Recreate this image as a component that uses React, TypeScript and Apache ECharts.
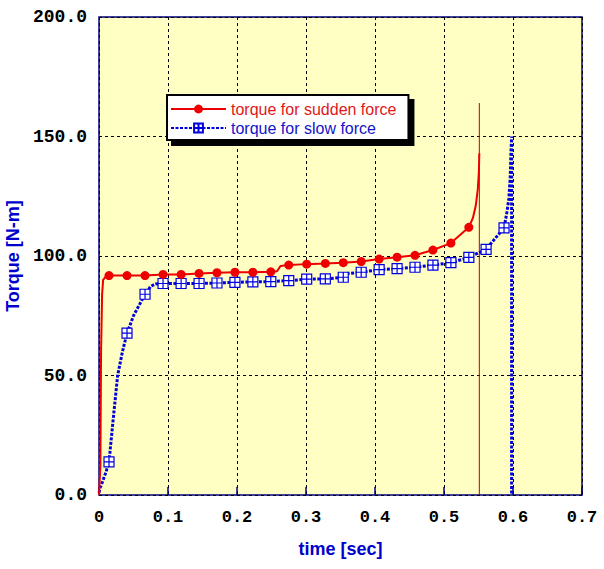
import React, { useEffect, useRef } from "react";
import * as echarts from "echarts";

// Times (s) at which both series carry a marker
const markerT = [
  0.0145, 0.0406, 0.0667, 0.0928, 0.119, 0.145, 0.171, 0.197, 0.223, 0.249,
  0.275, 0.301, 0.328, 0.354, 0.38, 0.406, 0.432, 0.458, 0.484, 0.51, 0.536,
  0.561, 0.587,
];

// torque for sudden force
const redT = [
  0, 0.002, 0.003, 0.0045, 0.006, 0.01, 0.0145, 0.0406, 0.0667, 0.0928, 0.119,
  0.145, 0.171, 0.197, 0.223, 0.249, 0.258, 0.263, 0.275, 0.301, 0.328, 0.354,
  0.38, 0.406, 0.432, 0.458, 0.484, 0.51, 0.536, 0.542, 0.546, 0.549, 0.5505,
  0.5512,
];
const redV = [
  0, 12, 60, 84, 90, 91.5, 91.8, 91.8, 91.8, 92.3, 92.3, 92.7, 93.0, 93.2, 93.2,
  93.4, 93.6, 95.8, 96.2, 96.6, 96.9, 97.2, 97.7, 98.7, 99.5, 100.3, 102.5,
  105.4, 112.0, 116, 121, 128, 135, 143,
];
// final vertical drop of the sudden-force trace
const redDropT = [0.5512, 0.5512];
const redDropV = [164, 0];

// torque for slow force
const blueT = [
  0, 0.0015, 0.005, 0.01, 0.0145, 0.02, 0.027, 0.034, 0.0406, 0.05, 0.0667,
  0.075, 0.082, 0.0928, 0.119, 0.145, 0.171, 0.197, 0.223, 0.249, 0.275, 0.301,
  0.328, 0.354, 0.357, 0.38, 0.406, 0.432, 0.458, 0.484, 0.51, 0.536, 0.561,
  0.587, 0.591, 0.594, 0.596, 0.597, 0.598, 0.598,
];
const blueV = [
  1, 2.9, 5.5, 9.5, 13.9, 30, 50, 60, 67.7, 75, 84, 87.3, 88.3, 88.5, 88.5,
  88.5, 88.7, 89.0, 89.2, 89.3, 89.7, 90.3, 90.4, 91.1, 92.6, 93.2, 94.3, 94.7,
  95.3, 96.2, 97.2, 99.4, 102.8, 111.8, 118, 124, 133, 143, 150, 0,
];

const xTicks = [0, 0.1, 0.2, 0.3, 0.4, 0.5, 0.6, 0.7];
const yTicks = [0, 50, 100, 150, 200];

const SUDDEN = "torque for sudden force";
const SLOW = "torque for slow force";
const boxCross = "path://M0,0L10,0L10,10L0,10Z M5,0L5,10 M0,5L10,5";

function buildPoints(ts: number[], vs: number[]) {
  return ts.map((t, i) => ({
    value: [t, vs[i]],
    symbol: markerT.includes(t) && i > 0 ? undefined : "none",
  }));
}

export default function App() {
  const ref = useRef<HTMLDivElement>(null);
  useEffect(() => {
    document.body.style.margin = "0";
    const chart = echarts.init(ref.current!, undefined, { renderer: "svg" });
    const monoLabel = {
      fontFamily: "'Liberation Mono', 'Courier New', monospace",
      fontWeight: "bold" as const,
      color: "#000",
    };
    chart.setOption({
      animation: false,
      backgroundColor: "#ffffff",
      grid: {
        left: 99,
        top: 17,
        right: 22,
        bottom: 74,
        outerBoundsMode: "none",
        containLabel: false,
        show: true,
        backgroundColor: "#ffffc4",
        borderColor: "#000080",
        borderWidth: 1.5,
      },
      legend: {
        orient: "vertical",
        left: 167,
        top: 95,
        itemWidth: 55,
        itemHeight: 11,
        itemGap: 3,
        padding: [6, 12, 4, 3],
        backgroundColor: "#ffffff",
        borderColor: "#000000",
        borderWidth: 2,
        shadowColor: "#000000",
        shadowBlur: 0,
        shadowOffsetX: 5,
        shadowOffsetY: 5,
        textStyle: { fontFamily: "'Liberation Sans', Arial, sans-serif", fontSize: 16 },
        data: [
          { name: SUDDEN, textStyle: { color: "#e01818" } },
          { name: SLOW, textStyle: { color: "#1414c8" } },
        ],
      },
      xAxis: {
        type: "value",
        min: xTicks[0],
        max: xTicks[xTicks.length - 1],
        interval: 0.1,
        name: "time [sec]",
        nameLocation: "middle",
        nameGap: 45,
        nameTextStyle: {
          fontFamily: "'Liberation Sans', Arial, sans-serif",
          fontWeight: "bold",
          fontSize: 18,
          color: "#0000cc",
        },
        axisLine: { show: false },
        axisTick: { show: true, inside: true, length: 8, lineStyle: { color: "#000080", width: 1.5 } },
        axisLabel: {
          ...monoLabel,
          fontSize: 17,
          margin: 14,
          formatter: (v: number) => (v === 0 ? "0" : v.toFixed(1)),
        },
        splitLine: { show: true, lineStyle: { color: "#000", type: [3, 3], width: 1 } },
      },
      yAxis: {
        type: "value",
        min: yTicks[0],
        max: yTicks[yTicks.length - 1],
        interval: 50,
        name: "Torque [N-m]",
        nameLocation: "middle",
        nameGap: 69,
        nameTextStyle: {
          fontFamily: "'Liberation Sans', Arial, sans-serif",
          fontWeight: "bold",
          fontSize: 18,
          color: "#0000cc",
        },
        axisLine: { show: false },
        axisTick: { show: false },
        axisLabel: {
          ...monoLabel,
          fontSize: 18,
          margin: 12,
          formatter: (v: number) => v.toFixed(1),
        },
        splitLine: { show: true, lineStyle: { color: "#000", type: [3, 3], width: 1 } },
      },
      series: [
        {
          name: "drop",
          type: "line",
          data: redDropT.map((t, i) => [t, redDropV[i]]),
          symbol: "none",
          lineStyle: { color: "#c00000", width: 1 },
          z: 2,
        },
        {
          name: SLOW,
          type: "line",
          data: buildPoints(blueT, blueV),
          symbol: boxCross,
          symbolSize: 10,
          showAllSymbol: true,
          lineStyle: { color: "#0000dd", width: 3, type: [3, 1.5] },
          itemStyle: { color: "#ffffff", borderColor: "#0000dd", borderWidth: 1.2 },
          z: 3,
        },
        {
          name: SUDDEN,
          type: "line",
          data: buildPoints(redT, redV),
          symbol: "circle",
          symbolSize: 9,
          showAllSymbol: true,
          lineStyle: { color: "#ee0000", width: 2 },
          itemStyle: { color: "#ee0000" },
          z: 4,
        },
      ],
    });
    return () => chart.dispose();
  }, []);
  return <div ref={ref} style={{ width: 604, height: 569 }} />;
}
